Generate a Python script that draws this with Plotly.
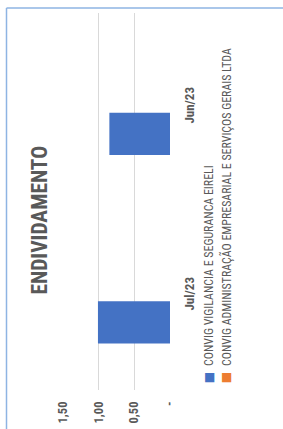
import plotly.graph_objects as go

categories = ["Jul/23", "Jun/23"]
series_names = ["CONVIG VIGILANCIA E SEGURANCA EIRELI",
                "CONVIG ADMINISTRAÇÃO EMPRESARIAL E SERVIÇOS GERAIS LTDA"]
vigilancia = [1.01, 0.85]
administracao = [0, 0]
tick_vals = [0, 0.5, 1.0, 1.5]
tick_text = ["-", "0,50", "1,00", "1,50"]
title_text = "ENDIVIDAMENTO"

colors = ["#4472C4", "#ED7D31"]
FONT = "Roboto Condensed, Roboto, Liberation Sans, Arial, sans-serif"
GRAY = "#595959"

W, H = 283, 429
L, R, T, B = 63, 113, 13, 39
pw, ph = W - L - R, H - T - B

def px_x(p):
    return (p - L) / pw

def px_y(p):
    return (H - B - p) / ph

fig = go.Figure()
for name, vals, c in [(series_names[0], vigilancia, colors[0]),
                      (series_names[1], administracao, colors[1])]:
    fig.add_trace(go.Bar(y=categories, x=vals, orientation="h", name=name,
                         marker=dict(color=c, line=dict(width=0))))

fig.update_layout(
    width=W, height=H,
    margin=dict(l=L, r=R, t=T, b=B, autoexpand=False),
    paper_bgcolor="white", plot_bgcolor="white",
    barmode="group", bargap=0.433, bargroupgap=0.21,
    showlegend=False,
    font=dict(family=FONT, color=GRAY),
    xaxis=dict(range=[1.5, 0], tickvals=tick_vals, ticktext=tick_text,
               tickangle=-90, showgrid=True, gridcolor="#d9d9d9", gridwidth=1,
               zeroline=False, showline=False, ticks="", automargin=False,
               ticklabelstandoff=8,
               tickfont=dict(family=FONT, size=12.5, color=GRAY, weight="bold")),
    yaxis=dict(side="right", tickangle=-90, showgrid=False, zeroline=False,
               showline=False, ticks="", ticklabelstandoff=10, automargin=False,
               tickfont=dict(family=FONT, size=13, color=GRAY, weight="bold")),
)

fig.add_annotation(text=title_text, textangle=-90, xref="paper", yref="paper",
                   x=px_x(38.5), y=px_y(220), xanchor="center", yanchor="middle",
                   showarrow=False,
                   font=dict(family=FONT, size=21.5, color=GRAY, weight="bold"))

for i, (name, c) in enumerate(zip(series_names, colors)):
    fig.add_annotation(
        text=name, textangle=-90, xref="paper", yref="paper",
        x=px_x(208.5 + 17.5 * i), y=px_y(368), xanchor="center", yanchor="bottom",
        showarrow=False, font=dict(family=FONT, size=11.9, color=GRAY))
    fig.add_annotation(
        text="■", xref="paper", yref="paper",
        x=px_x(209.5 + 17 * i), y=px_y(377), xanchor="center", yanchor="middle",
        showarrow=False, font=dict(family="DejaVu Sans", size=12, color=c))

border = "#8EB4E3"
fig.add_shape(type="line", xref="paper", yref="paper",
              x0=px_x(6.5), x1=px_x(6.5), y0=px_y(8), y1=px_y(H + 5),
              line=dict(color=border, width=1.5))
fig.add_shape(type="line", xref="paper", yref="paper",
              x0=px_x(6.5), x1=px_x(W + 5), y0=px_y(8), y1=px_y(8),
              line=dict(color=border, width=1.5))

fig.write_html("out.html", config={"displayModeBar": False},
               post_script="document.body.style.margin='0px';")
